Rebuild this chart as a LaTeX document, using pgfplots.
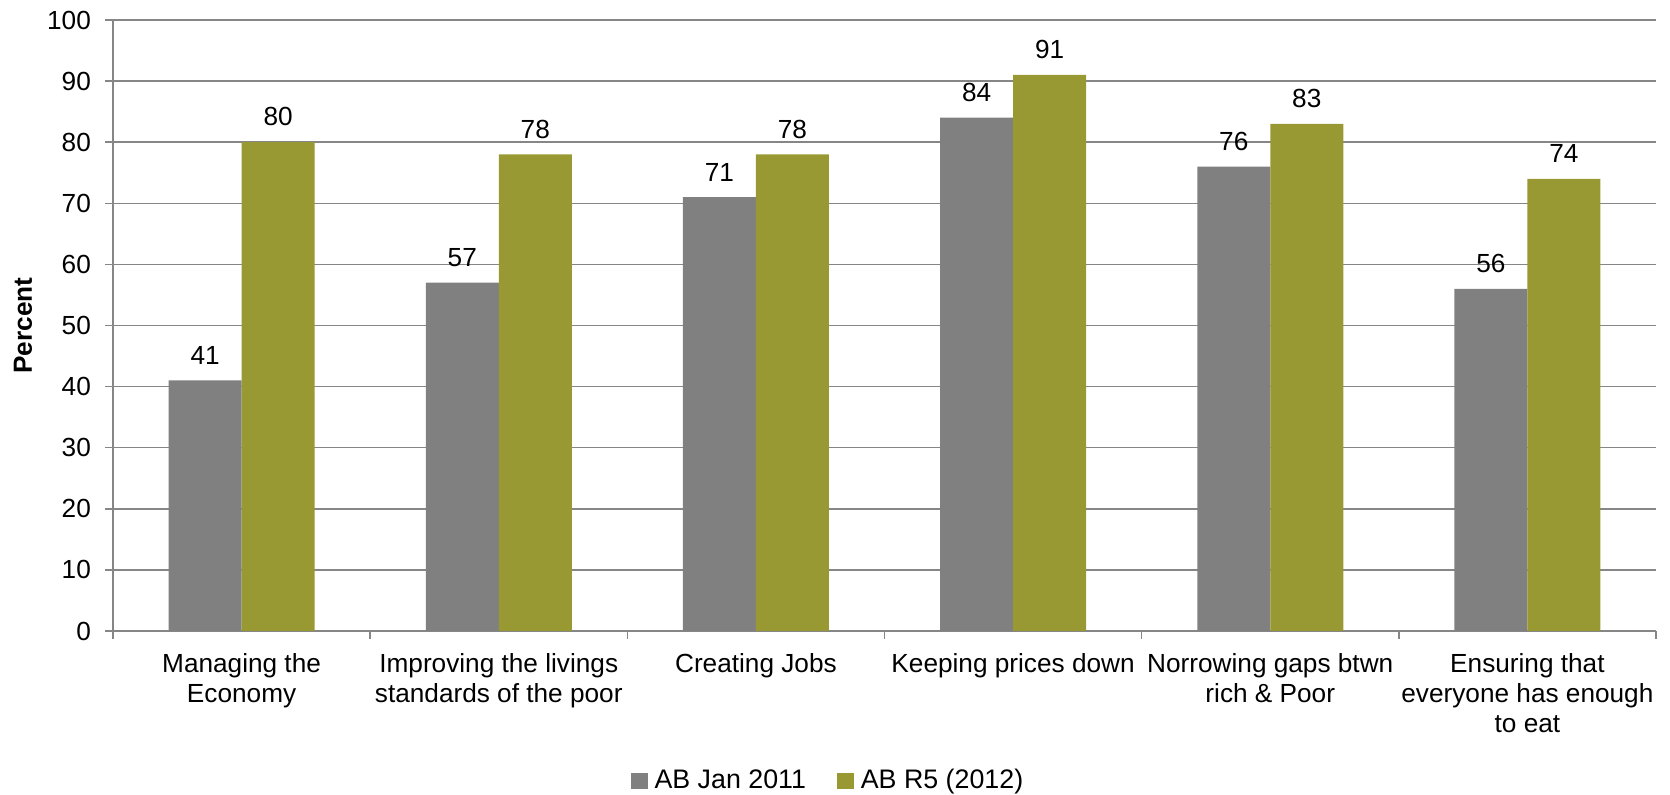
\documentclass[border=0pt]{standalone}
\usepackage{pgfplots}
\pgfplotsset{compat=1.18}
\usepackage{fontspec}
\setmainfont{Liberation Sans}
\definecolor{barGray}{HTML}{808080}
\definecolor{barOlive}{HTML}{999933}
\definecolor{axGray}{HTML}{868686}

\begin{document}
\fontsize{13.1}{15}\selectfont
\begin{tikzpicture}
\useasboundingbox (-56.5pt,-82pt) rectangle (778.5pt,315.5pt);
\begin{axis}[
  scale only axis, width=771.5pt, height=305.5pt,
  at={(0,0)}, anchor=south west,
  ybar=0pt, bar width=36.5pt,
  xmin=-0.5, xmax=5.5, ymin=0, ymax=100,
  ytick={0,10,20,30,40,50,60,70,80,90,100},
  xtick={-0.5,0.5,1.5,2.5,3.5,4.5,5.5},
  x tick label as interval,
  xticklabels={{Managing the\\Economy},{Improving the livings\\standards of the poor},{Creating Jobs},{Keeping prices down},{Norrowing gaps btwn\\rich \& Poor},{Ensuring that\\everyone has enough\\to eat}},
  xticklabel style={align=center, anchor=north, yshift=-2.5pt},
  yticklabel style={xshift=-2.5pt},
  /pgf/number format/assume math mode=true,
  axis x line=bottom, axis y line=left,
  axis line style={axGray, line width=0.75pt, -},
  tick align=outside, major tick length=4pt,
  tick style={axGray, line width=0.75pt},
  ymajorgrids, grid style={axGray, line width=0.75pt},
  ylabel={Percent},
  ylabel style={font=\bfseries, at={(axis description cs:-0.0584,0.5)}, anchor=center, rotate=0},
  nodes near coords,
  every node near coord/.append style={text=black, yshift=3.5pt},
  legend style={at={(axis description cs:0.465,-0.2455)}, anchor=center, draw=none, fill=none,
    legend columns=2, /tikz/every even column/.append style={column sep=12pt},
    legend cell align=left, font=\fontsize{13.4}{16}\selectfont,
    nodes={inner xsep=3.5pt}},
  legend image code/.code={\fill[#1] (0pt,-4.2pt) rectangle (8.4pt,4.2pt);},
]
\addplot[fill=barGray, draw=none] coordinates {(0,41) (1,57) (2,71) (3,84) (4,76) (5,56)};
\addplot[fill=barOlive, draw=none] coordinates {(0,80) (1,78) (2,78) (3,91) (4,83) (5,74)};
\legend{AB Jan 2011, AB R5 (2012)}
\end{axis}
\end{tikzpicture}
\end{document}
